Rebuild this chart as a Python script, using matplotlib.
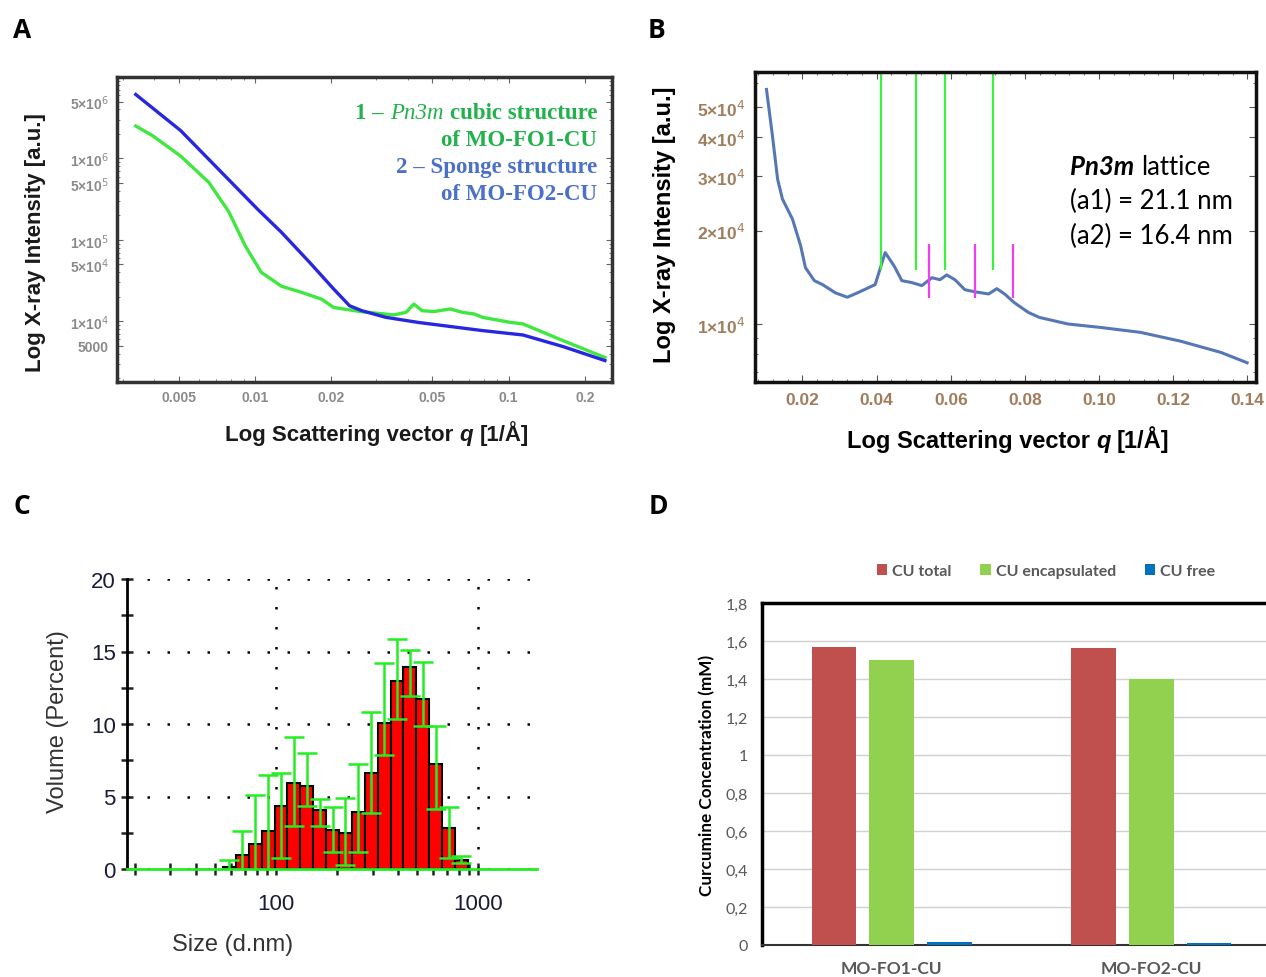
import numpy as np
import matplotlib
matplotlib.use("Agg")
import matplotlib.pyplot as plt
from matplotlib.ticker import FixedLocator, LogLocator, MultipleLocator, FuncFormatter, NullFormatter

# ---- panel A: SAXS curves of both formulations (log-log)
qa_green = [0.00338, 0.00394, 0.00508, 0.00656, 0.00788, 0.00913, 0.01057, 0.0127, 0.01525,
            0.0183, 0.0204, 0.0264, 0.0353, 0.0394, 0.0423, 0.0456, 0.0508, 0.0589, 0.0657,
            0.0733, 0.0789, 0.102, 0.114, 0.164, 0.240]
ia_green = [2.5e6, 1.9e6, 1.07e6, 5.1e5, 2.2e5, 8.5e4, 4.0e4, 2.7e4, 2.27e4,
            1.87e4, 1.48e4, 1.31e4, 1.2e4, 1.29e4, 1.63e4, 1.35e4, 1.32e4, 1.42e4, 1.29e4,
            1.23e4, 1.12e4, 9.7e3, 9.3e3, 5.8e3, 3.6e3]
qa_blue = [0.00338, 0.00508, 0.0102, 0.0127, 0.0164, 0.0204, 0.0236, 0.0264, 0.0328,
           0.044, 0.0547, 0.0789, 0.114, 0.164, 0.240]
ia_blue = [6.1e6, 2.2e6, 2.4e5, 1.24e5, 5.3e4, 2.5e4, 1.55e4, 1.35e4, 1.12e4,
           9.7e3, 8.9e3, 7.7e3, 6.8e3, 4.9e3, 3.3e3]
a_xticks = [0.005, 0.01, 0.02, 0.05, 0.1, 0.2]
a_xlabels = ["0.005", "0.01", "0.02", "0.05", "0.1", "0.2"]
a_yticks = [5e6, 1e6, 5e5, 1e5, 5e4, 1e4, 5000]
a_ylabels = ["5×10$^{6}$", "1×10$^{6}$", "5×10$^{5}$", "1×10$^{5}$", "5×10$^{4}$", "1×10$^{4}$", "5000"]

# ---- panel B: MO-FO1-CU curve with Pn3m reflections
qb = [0.0103, 0.0119, 0.0133, 0.0146, 0.0173, 0.0195, 0.0208, 0.0232, 0.0254, 0.0289,
      0.0321, 0.0348, 0.0396, 0.0423, 0.0447, 0.0468, 0.0495, 0.0522, 0.0549, 0.0571,
      0.0589, 0.0611, 0.0638, 0.0665, 0.0702, 0.0724, 0.0745, 0.0772, 0.0809, 0.0839,
      0.0916, 0.1003, 0.1111, 0.122, 0.1328, 0.1399]
ib = [5.71e4, 4.05e4, 2.93e4, 2.53e4, 2.18e4, 1.79e4, 1.52e4, 1.38e4, 1.34e4, 1.26e4,
      1.22e4, 1.26e4, 1.34e4, 1.70e4, 1.54e4, 1.38e4, 1.36e4, 1.33e4, 1.41e4, 1.39e4,
      1.44e4, 1.39e4, 1.29e4, 1.27e4, 1.25e4, 1.30e4, 1.25e4, 1.17e4, 1.09e4, 1.05e4,
      1.0e4, 9.75e3, 9.4e3, 8.8e3, 8.1e3, 7.5e3]
peaks_a1 = [0.0412, 0.0506, 0.0585, 0.0715]
peaks_a2 = [0.054, 0.0665, 0.0767]
b_yticks = [5e4, 4e4, 3e4, 2e4, 1e4]
b_ylabels = ["5×10$^{4}$", "4×10$^{4}$", "3×10$^{4}$", "2×10$^{4}$", "1×10$^{4}$"]

# ---- panel C: DLS volume distribution
sizes = [58.77, 68.06, 78.82, 91.28, 105.7, 122.4, 141.8, 164.2, 190.1, 220.2,
         255.0, 295.3, 342.0, 396.1, 458.7, 531.2, 615.1, 712.4, 825.0]
volume = [0.15, 0.95, 1.7, 2.65, 4.35, 5.9, 5.7, 4.05, 2.7, 2.5,
          3.9, 6.65, 10.05, 13.0, 13.9, 11.75, 7.25, 2.8, 0.65]
vol_hi = [0.65, 2.6, 5.1, 6.5, 6.6, 9.1, 8.0, 4.8, 4.3, 4.9,
          7.25, 10.8, 14.2, 15.85, 15.1, 14.3, 9.85, 4.3, 0.9]
vol_lo = [-0.35, -0.7, -1.7, -1.2, 0.75, 2.95, 4.35, 2.95, 1.2, 0.3,
          1.2, 3.85, 7.85, 10.35, 11.9, 9.85, 4.15, 0.75, 0.4]

# ---- panel D: curcumine concentration
groups = ["MO-FO1-CU", "MO-FO2-CU"]
cu_total = [1.57, 1.565]
cu_encaps = [1.50, 1.40]
cu_free = [0.015, 0.012]

W, H = 1266, 978
fig = plt.figure(figsize=(W / 100, H / 100), dpi=100)


def box(l, t, r, b):
    return [l / W, 1 - b / H, (r - l) / W, (b - t) / H]


def rich(x, y, parts, ha="left"):
    # pieces of text with own styles, placed one after another on a baseline
    texts = [fig.text(0, 1 - y / H, s.strip(), va="baseline", ha="left", **kw) for s, kw in parts]
    r = fig.canvas.get_renderer()
    gaps = [0.27 * kw.get("fontsize", 10) * 100 / 72 if s.startswith(" ") else 0 for s, kw in parts]
    widths = [t.get_window_extent(r).width for t in texts]
    total = sum(widths) + sum(gaps)
    x0 = x - {"left": 0, "center": total / 2, "right": total}[ha]
    for t, w, g in zip(texts, widths, gaps):
        x0 += g
        t.set_x(x0 / W)
        x0 += w


# panel letters
for lab, (lx, ly) in zip("ABCD", [(22, 30), (657, 30), (22, 507), (658, 507)]):
    fig.text(lx / W, 1 - ly / H, lab, fontsize=19, fontweight="bold", family="Open Sans",
             ha="center", va="center")

# ================= A
ax = fig.add_axes(box(117, 78, 612, 383))
ax.plot(qa_green, ia_green, color="#3fe83f", lw=2.4)
ax.plot(qa_blue, ia_blue, color="#2727e0", lw=2.4)
ax.set_xscale("log")
ax.set_yscale("log")
ax.set_xlim(0.00285, 0.256)
ax.set_ylim(1800, 1.0e7)
ax.xaxis.set_major_locator(FixedLocator(a_xticks))
ax.xaxis.set_major_formatter(FuncFormatter(lambda v, p: a_xlabels[a_xticks.index(v)] if v in a_xticks else ""))
ax.xaxis.set_minor_formatter(NullFormatter())
ax.yaxis.set_major_locator(FixedLocator(a_yticks))
ax.set_yticklabels(a_ylabels)
ax.yaxis.set_minor_formatter(NullFormatter())
ax.tick_params(which="both", direction="in", top=True, right=True, color="#666666")
ax.tick_params(which="major", length=4, labelsize=10, labelcolor="#8a8a8a", pad=6)
ax.tick_params(which="minor", length=2)
for lbl in ax.get_xticklabels() + ax.get_yticklabels():
    lbl.set_fontweight("bold")
    lbl.set_family("Liberation Sans")
for sp in ax.spines.values():
    sp.set_linewidth(2.5)
    sp.set_color("#333333")
fig.text(36 / W, 1 - 243 / H, "Log X-ray Intensity [a.u.]", rotation=90, ha="center", va="center",
         fontsize=16, fontweight="bold", family="Liberation Sans", color="#1a1a1a")
lab_kw = dict(fontsize=16, fontweight="bold", family="Liberation Sans", color="#1a1a1a")
rich(377, 441, [("Log Scattering vector", lab_kw),
                (" q", dict(lab_kw, style="italic")),
                (" [1/Å]", lab_kw)], ha="center")
g_kw = dict(fontsize=16.5, fontweight="bold", family="Liberation Serif", color="#22b24c")
b_kw = dict(fontsize=16.5, fontweight="bold", family="Liberation Serif", color="#4a70c8")
rich(597, 119, [("1 –", g_kw), (" Pn3m", dict(g_kw, style="italic", fontweight="normal")),
                (" cubic structure", g_kw)], ha="right")
rich(597, 146, [("of MO-FO1-CU", g_kw)], ha="right")
rich(597, 173, [("2 – Sponge structure", b_kw)], ha="right")
rich(597, 200, [("of MO-FO2-CU", b_kw)], ha="right")

# ================= B
bx = fig.add_axes(box(755, 73, 1256, 383))
bx.plot(qb, ib, color="#5577b5", lw=2.2)
bx.set_yscale("log")
bx.set_xlim(0.0072, 0.1423)
bx.set_ylim(6.5e3, 6.5e4)
bx.vlines(peaks_a1, 1.49e4, 6.5e4, color="#3ef03e", lw=1.6)
bx.vlines(peaks_a2, 1.21e4, 1.81e4, color="#f23ef2", lw=1.6)
bx.xaxis.set_major_locator(MultipleLocator(0.02))
bx.xaxis.set_minor_locator(MultipleLocator(0.004))
bx.xaxis.set_major_formatter(FuncFormatter(lambda v, p: f"{v:.2f}"))
bx.yaxis.set_major_locator(FixedLocator(b_yticks))
bx.set_yticklabels(b_ylabels)
bx.yaxis.set_minor_formatter(NullFormatter())
bx.tick_params(which="both", direction="in", top=True, right=True, color="#555555")
bx.tick_params(which="major", length=5, labelsize=12.5, labelcolor="#a07d5c", pad=7)
bx.tick_params(which="minor", length=2.5)
for lbl in bx.get_xticklabels() + bx.get_yticklabels():
    lbl.set_fontweight("bold")
    lbl.set_family("Liberation Sans")
for sp in bx.spines.values():
    sp.set_linewidth(2.5)
    sp.set_color("#111111")
fig.text(664 / W, 1 - 225 / H, "Log X-ray Intensity [a.u.]", rotation=90, ha="center", va="center",
         fontsize=17, fontweight="bold", family="Liberation Sans")
lab_kw = dict(fontsize=17, fontweight="bold", family="Liberation Sans")
rich(1008, 448, [("Log Scattering vector", lab_kw),
                 (" q", dict(lab_kw, style="italic")),
                 (" [1/Å]", lab_kw)], ha="center")
t_kw = dict(fontsize=18.5, family="Lato")
rich(1070, 175, [("Pn3m", dict(t_kw, style="italic", fontweight="bold")), (" lattice", t_kw)])
rich(1070, 209, [("(a1) = 21.1 nm", t_kw)])
rich(1070, 244, [("(a2) = 16.4 nm", t_kw)])

# ================= C
cx = fig.add_axes(box(127, 580, 537, 870))
sz = np.array(sizes)
half = np.sqrt(sz[1] / sz[0])
cx.bar(sz / half, volume, width=sz * half - sz / half, align="edge",
       color="#ff0000", edgecolor="black", linewidth=1.5, zorder=3)
vol = np.array(volume)
cx.errorbar(sz, vol, yerr=[vol - np.array(vol_lo), np.array(vol_hi) - vol], fmt="none",
            ecolor="#22ee22", elinewidth=1.8, capsize=7, capthick=1.8, zorder=4)
cx.axhline(0, color="#22ee22", lw=2, zorder=5, clip_on=False)
cx.set_xscale("log")
cx.set_xlim(18.3, 1950)
cx.set_ylim(0, 20)
cx.grid(which="major", color="black", linestyle=(0, (1, 7)), lw=1.8)
cx.set_axisbelow(True)
cx.xaxis.set_major_locator(LogLocator(base=10))
cx.xaxis.set_minor_locator(LogLocator(base=10, subs=np.arange(2, 10)))
cx.xaxis.set_major_formatter(FuncFormatter(lambda v, p: f"{v:g}"))
cx.xaxis.set_minor_formatter(NullFormatter())
cx.yaxis.set_major_locator(MultipleLocator(5))
cx.yaxis.set_minor_locator(MultipleLocator(2.5))
cx.tick_params(which="both", direction="inout", length=9, width=1.8, color="#222222")
cx.tick_params(axis="x", which="both", pad=13)
cx.tick_params(labelsize=16, labelcolor="#1c1c38")
for lbl in cx.get_xticklabels() + cx.get_yticklabels():
    lbl.set_family("Liberation Sans")
for s in ["top", "right", "bottom"]:
    cx.spines[s].set_visible(False)
cx.spines["left"].set_linewidth(2)
fig.text(58 / W, 1 - 722 / H, "Volume (Percent)", rotation=90, ha="center", va="center",
         fontsize=17, family="Liberation Sans", color="#333333")
fig.text(233 / W, 1 - 945 / H, "Size (d.nm)", ha="center", va="center",
         fontsize=17, family="Liberation Sans", color="#333333")

# ================= D
dx = fig.add_axes(box(762, 604, 1281, 946))
xg = np.arange(len(groups))
bw = 0.172
dx.bar(xg - 0.222, cu_total, bw, color="#c0504d", label="CU total", zorder=3)
dx.bar(xg, cu_encaps, bw, color="#92d050", label="CU encapsulated", zorder=3)
dx.bar(xg + 0.222, cu_free, bw, color="#0070c0", label="CU free", zorder=3)
dx.set_xlim(-0.5, 1.5)
dx.set_ylim(0, 1.8)
dx.yaxis.set_major_locator(MultipleLocator(0.2))
dx.yaxis.set_major_formatter(FuncFormatter(lambda v, p: f"{v:.1f}".rstrip("0").rstrip(".").replace(".", ",")))
dx.grid(axis="y", color="#d0d0d0", lw=1)
dx.set_axisbelow(True)
dx.set_xticks(xg)
dx.set_xticklabels(groups)
dx.tick_params(axis="x", length=0, pad=11, labelsize=12.5, labelcolor="#595959")
dx.tick_params(axis="y", length=0, pad=10, labelsize=11.5, labelcolor="#595959")
for lbl in dx.get_xticklabels():
    lbl.set_fontweight("bold")
    lbl.set_family("Lato")
for lbl in dx.get_yticklabels():
    lbl.set_family("Lato")
dx.spines["top"].set_linewidth(2.5)
dx.spines["left"].set_linewidth(2.5)
dx.spines["bottom"].set_linewidth(1.5)
dx.spines["bottom"].set_color("#333333")
dx.spines["right"].set_visible(False)
leg = fig.legend(loc="center", bbox_to_anchor=(1046 / W, 1 - 572 / H), ncol=3, frameon=False,
                 handlelength=0.65, handleheight=0.65, handletextpad=0.3, columnspacing=1.8,
                 prop=dict(family="Lato", weight="bold", size=11.5))
for t in leg.get_texts():
    t.set_color("#595959")
fig.text(707 / W, 1 - 775 / H, "Curcumine Concentration (mM)", rotation=90, ha="center", va="center",
         fontsize=12.3, fontweight="bold", family="Lato")

fig.savefig("out.png", dpi=100)
